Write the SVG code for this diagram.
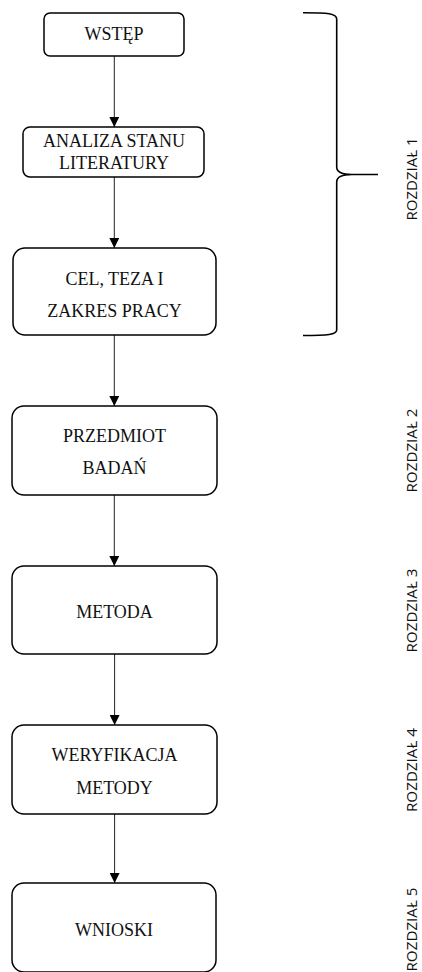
<svg xmlns="http://www.w3.org/2000/svg" width="422" height="972" viewBox="0 0 422 972">
  <defs>
    <marker id="arrow" viewBox="0 0 10 10" refX="10" refY="5" markerWidth="10" markerHeight="10" markerUnits="userSpaceOnUse" orient="auto">
      <path d="M0,0 L10,5 L0,10 Z" fill="#000"/>
    </marker>
    <style>
      .box { fill: #fff; stroke: #000; stroke-width: 1.5; }
      .lbl { font-family: 'Liberation Serif', 'Times New Roman', serif; font-size: 18px; fill: #111; text-anchor: middle; }
      .edge { stroke: #222; stroke-width: 1; fill: none; marker-end: url(#arrow); }
      .chap { font-family: 'Open Sans', 'Noto Sans', sans-serif; font-size: 14px; fill: #111; text-anchor: middle; }
      .brace { stroke: #000; stroke-width: 1.6; fill: none; }
    </style>
  </defs>
  <rect width="422" height="972" fill="#fff"/>

  <!-- connectors -->
  <g id="connectors">
    <line class="edge" x1="114.3" y1="56" x2="114.3" y2="127"/>
    <line class="edge" x1="114.3" y1="177" x2="114.3" y2="248"/>
    <line class="edge" x1="114.3" y1="335" x2="114.3" y2="406"/>
    <line class="edge" x1="114.3" y1="495" x2="114.3" y2="566"/>
    <line class="edge" x1="114.6" y1="654" x2="114.6" y2="725"/>
    <line class="edge" x1="114.6" y1="814" x2="114.6" y2="883"/>
  </g>

  <g id="wstep">
    <rect class="box" x="44" y="13" width="140" height="43" rx="6"/>
    <text class="lbl" x="114" y="40">WSTĘP</text>
  </g>

  <g id="analiza">
    <rect class="box" x="23" y="127" width="181" height="50" rx="7"/>
    <text class="lbl" x="114" y="146.7">ANALIZA STANU</text>
    <text class="lbl" x="114" y="169">LITERATURY</text>
  </g>

  <g id="cel">
    <rect class="box" x="13" y="248" width="203" height="87" rx="12"/>
    <text class="lbl" x="114.5" y="285">CEL, TEZA I</text>
    <text class="lbl" x="114.5" y="317">ZAKRES PRACY</text>
  </g>

  <g id="przedmiot">
    <rect class="box" x="12" y="406" width="205" height="89" rx="12"/>
    <text class="lbl" x="114.5" y="441.7">PRZEDMIOT</text>
    <text class="lbl" x="114.5" y="474.3">BADAŃ</text>
  </g>

  <g id="metoda">
    <rect class="box" x="12" y="566" width="205" height="88" rx="12"/>
    <text class="lbl" x="114.5" y="617.7">METODA</text>
  </g>

  <g id="weryfikacja">
    <rect class="box" x="12" y="725" width="205" height="89" rx="12"/>
    <text class="lbl" x="114.5" y="761">WERYFIKACJA</text>
    <text class="lbl" x="114.5" y="794">METODY</text>
  </g>

  <g id="wnioski">
    <rect class="box" x="12" y="883" width="204" height="89" rx="12"/>
    <text class="lbl" x="114" y="935.7">WNIOSKI</text>
  </g>

  <!-- curly brace grouping chapter 1 -->
  <g id="brace">
    <path class="brace" d="M303,12.7 C328,12.7 336.7,13.5 336.7,19 L336.7,167 C336.7,172 341,174.5 352,174.5 L378,174.5 M352,174.5 C341,174.5 336.7,177 336.7,182 L336.7,330 C336.7,334.5 328,335.5 303,335.5"/>
  </g>

  <!-- chapter labels -->
  <g id="chapters">
    <text class="chap" transform="translate(417,179) rotate(-90)" textLength="83" lengthAdjust="spacingAndGlyphs">ROZDZIAŁ 1</text>
    <text class="chap" transform="translate(417,450.5) rotate(-90)" textLength="84" lengthAdjust="spacingAndGlyphs">ROZDZIAŁ 2</text>
    <text class="chap" transform="translate(417,610.5) rotate(-90)" textLength="84" lengthAdjust="spacingAndGlyphs">ROZDZIAŁ 3</text>
    <text class="chap" transform="translate(417,770) rotate(-90)" textLength="84" lengthAdjust="spacingAndGlyphs">ROZDZIAŁ 4</text>
    <text class="chap" transform="translate(417,929.5) rotate(-90)" textLength="84" lengthAdjust="spacingAndGlyphs">ROZDZIAŁ 5</text>
  </g>
</svg>
